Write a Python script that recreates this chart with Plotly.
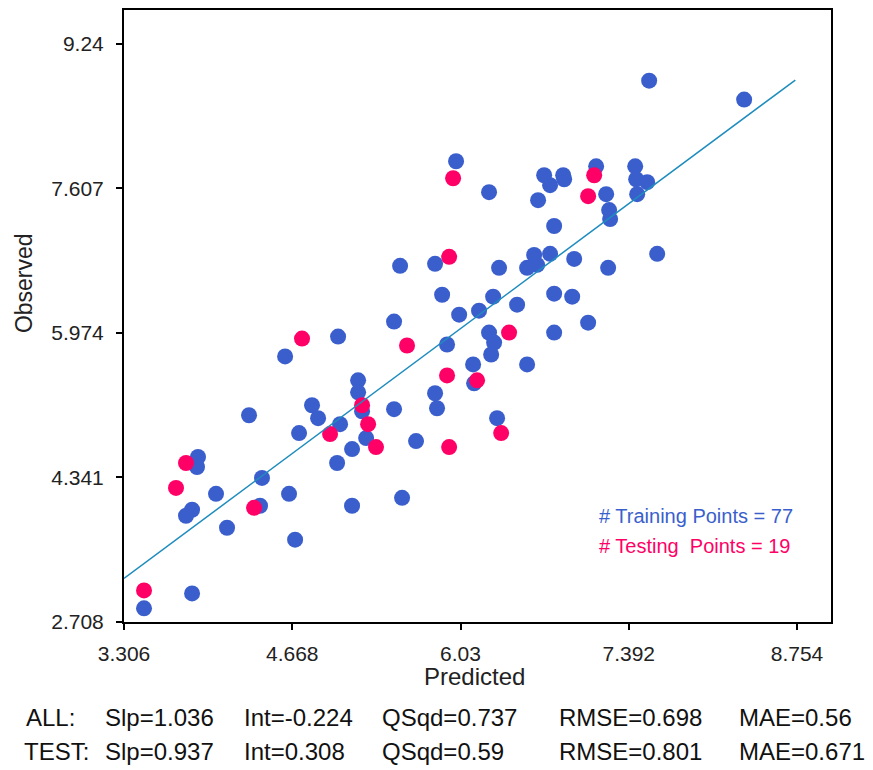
import plotly.graph_objects as go

# ---- data ----
train_pred = [7.557, 8.326, 5.994, 6.261, 6.707, 6.755, 6.861, 6.869, 7.128, 7.209,
              7.444, 7.452, 7.541, 7.460, 6.658, 7.233, 7.241, 6.788, 5.541, 5.824,
              6.342, 6.626, 6.755, 6.569, 6.650, 6.950, 7.225, 7.622, 5.881, 6.019,
              6.180, 6.294, 6.488, 6.788, 6.934, 7.063, 6.261, 6.788, 5.492, 5.921,
              6.302, 6.278, 6.132, 6.569, 6.140, 5.824, 5.840, 6.326, 5.039, 4.610,
              5.201, 5.201, 4.828, 4.877, 5.233, 5.492, 4.318, 5.055, 4.723, 5.266,
              5.670, 5.152, 5.031, 3.905, 3.897, 4.423, 4.051, 4.642, 5.557, 5.152,
              3.857, 3.808, 4.407, 4.140, 4.691, 3.468, 3.857]
train_obs = [8.824, 8.610, 7.913, 7.564, 7.755, 7.643, 7.755, 7.710, 7.856, 7.541,
             7.856, 7.710, 7.677, 7.541, 7.474, 7.362, 7.260, 7.182, 6.732, 6.754,
             6.709, 6.855, 6.867, 6.709, 6.743, 6.810, 6.709, 6.867, 6.405, 6.180,
             6.225, 6.383, 6.293, 6.417, 6.383, 6.090, 5.978, 5.978, 6.102, 5.843,
             5.865, 5.730, 5.618, 5.618, 5.404, 5.292, 5.123, 5.011, 5.933, 5.708,
             5.438, 5.303, 5.157, 5.011, 5.089, 5.112, 5.044, 4.943, 4.842, 4.786,
             4.752, 4.662, 4.504, 4.572, 4.459, 4.336, 4.156, 4.156, 4.111, 4.021,
             3.976, 3.908, 4.021, 3.773, 3.638, 2.862, 3.031]

test_pred = [5.970, 7.112, 7.063, 5.938, 6.423, 5.921, 6.164, 6.359, 5.938, 4.747,
             5.597, 5.233, 5.282, 4.974, 5.346, 3.808, 3.727, 4.359, 3.468]
test_obs = [7.721, 7.755, 7.519, 6.833, 5.978, 5.494, 5.438, 4.842, 4.684, 5.910,
            5.832, 5.157, 4.943, 4.831, 4.684, 4.504, 4.223, 3.998, 3.065]

fit_slope = 1.036
fit_intercept = -0.224
fit_x = [3.306, 8.74]

x_ticks = [3.306, 4.668, 6.03, 7.392, 8.754]
x_tick_labels = ["3.306", "4.668", "6.03", "7.392", "8.754"]
y_ticks = [2.708, 4.341, 5.974, 7.607, 9.24]
y_tick_labels = ["2.708", "4.341", "5.974", "7.607", "9.24"]

stats_all = ["ALL:", "Slp=1.036", "Int=-0.224", "QSqd=0.737", "RMSE=0.698", "MAE=0.56"]
stats_test = ["TEST:", "Slp=0.937", "Int=0.308", "QSqd=0.59", "RMSE=0.801", "MAE=0.671"]
n_train = len(train_pred)
n_test = len(test_pred)

# ---- styling ----
BLUE = "#3a5fcd"
PINK = "#ff0066"
LINE = "#1e8cbe"
FONT = "Liberation Sans, Arial, sans-serif"

OFF = 8  # page body margin
W, H = 865, 762
ML, MR, MT, MB = 116, 42, 0, 148
PW, PH = W - ML - MR, H - MT - MB


def px_x(px):
    return (px - OFF - ML) / PW


def px_y(py):
    return (H - MB - (py - OFF)) / PH


fig = go.Figure()
fig.add_trace(go.Scatter(x=train_pred, y=train_obs, mode="markers",
                         marker=dict(color=BLUE, size=16, symbol="circle", line=dict(width=0)),
                         showlegend=False, hoverinfo="x+y"))
fig.add_trace(go.Scatter(x=test_pred, y=test_obs, mode="markers",
                         marker=dict(color=PINK, size=16, symbol="circle", line=dict(width=0)),
                         showlegend=False, hoverinfo="x+y"))
fit_y = [fit_slope * v + fit_intercept for v in fit_x]
fig.add_trace(go.Scatter(x=fit_x, y=fit_y, mode="lines",
                         line=dict(color=LINE, width=1.5), showlegend=False))

axis_common = dict(showgrid=False, zeroline=False, showline=True, linecolor="black",
                   linewidth=2, mirror=True, ticks="outside", ticklen=6, tickwidth=2,
                   tickcolor="black", tickfont=dict(family=FONT, size=21, color="#222"))

fig.update_xaxes(range=[3.306, 9.029], tickmode="array", tickvals=x_ticks,
                 ticktext=x_tick_labels, ticklabelstandoff=6, **axis_common)
fig.update_yaxes(range=[2.708, 9.622], tickmode="array", tickvals=y_ticks,
                 ticktext=y_tick_labels, ticklabelstandoff=8, **axis_common)

ann = []
# axis titles
ann.append(dict(text="Predicted", x=px_x(474), y=px_y(677), xref="paper", yref="paper",
                showarrow=False, xanchor="center", yanchor="middle",
                font=dict(family=FONT, size=24, color="#222")))
ann.append(dict(text="Observed", x=px_x(24), y=px_y(282), xref="paper", yref="paper",
                showarrow=False, xanchor="center", yanchor="middle", textangle=-90,
                font=dict(family=FONT, size=23, color="#222")))
# legend-like texts
ann.append(dict(text="# Training Points = %d" % n_train, x=px_x(597), y=px_y(516),
                xref="paper", yref="paper", showarrow=False, xanchor="left", yanchor="middle",
                font=dict(family=FONT, size=20, color=BLUE)))
ann.append(dict(text="# Testing&nbsp;&nbsp;Points = %d" % n_test, x=px_x(597), y=px_y(546),
                xref="paper", yref="paper", showarrow=False, xanchor="left", yanchor="middle",
                font=dict(family=FONT, size=20, color=PINK)))
# stats rows
row1_x = [24, 103, 242, 380, 557, 737]
row2_x = [22, 103, 242, 380, 557, 737]
for txt, px in zip(stats_all, row1_x):
    ann.append(dict(text=txt, x=px_x(px), y=px_y(718), xref="paper", yref="paper",
                    showarrow=False, xanchor="left", yanchor="middle",
                    font=dict(family=FONT, size=24, color="#111")))
for txt, px in zip(stats_test, row2_x):
    ann.append(dict(text=txt, x=px_x(px), y=px_y(752), xref="paper", yref="paper",
                    showarrow=False, xanchor="left", yanchor="middle",
                    font=dict(family=FONT, size=24, color="#111")))

fig.update_layout(width=W, height=H, margin=dict(l=ML, r=MR, t=MT, b=MB),
                  paper_bgcolor="white", plot_bgcolor="white",
                  annotations=ann, showlegend=False)

fig.write_html("out.html")
